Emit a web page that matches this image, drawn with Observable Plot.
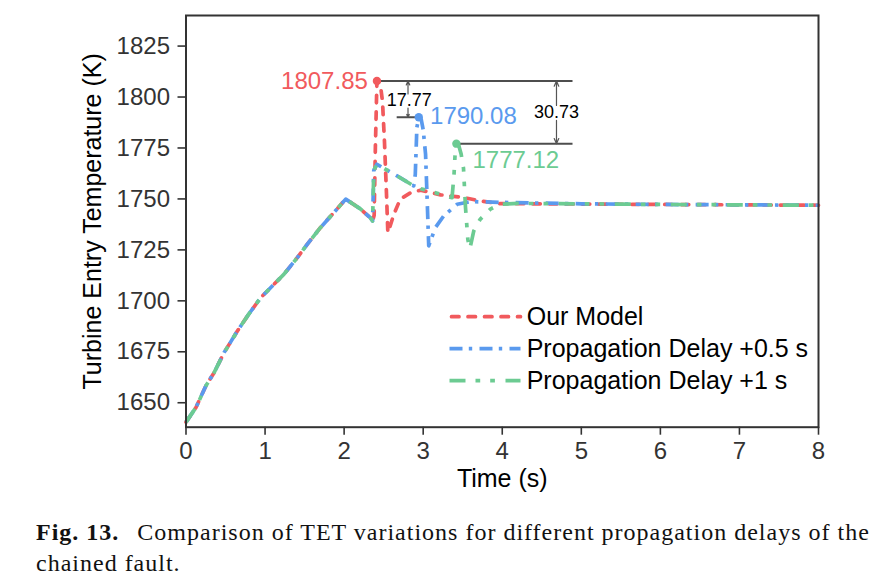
<!DOCTYPE html>
<html><head><meta charset="utf-8">
<script src="https://cdn.jsdelivr.net/npm/d3@7"></script>
<script src="https://cdn.jsdelivr.net/npm/@observablehq/plot@0.6"></script>
<style>
body{margin:0;background:#fff;width:880px;height:580px;overflow:hidden;position:relative;font-family:"Liberation Sans",Arial,sans-serif;}
#chart svg{display:block;}
#caption{position:absolute;left:36px;top:517px;font-family:"Liberation Serif","Times New Roman",serif;font-size:24px;line-height:31px;white-space:nowrap;color:#111;letter-spacing:1px;}
#caption b{margin-right:11px;}
</style></head><body>
<div id="chart"></div>
<div id="caption"><b>Fig. 13.</b> Comparison of TET variations for different propagation delays of the<br>chained fault.</div>
<script>
// ---- data ----
const xTicks = [0, 1, 2, 3, 4, 5, 6, 7, 8];
const yTicks = [1650, 1675, 1700, 1725, 1750, 1775, 1800, 1825];
const seriesNames = ["Our Model", "Propagation Delay +0.5 s", "Propagation Delay +1 s"];

// shared ramp before the fault
const commonT = [0, 0.126, 0.252, 0.357, 0.483, 0.652, 0.778, 0.946, 1.115, 1.24, 1.41, 1.535, 1.70, 1.87, 2.02, 2.21, 2.33, 2.36];
const commonV = [1640.5, 1647.7, 1658.3, 1664.9, 1674.7, 1685.3, 1692.6, 1701.6, 1708.2, 1713.1, 1721.3, 1727.8, 1735.9, 1743.3, 1749.9, 1745, 1740.8, 1739.2];

const redT = [2.38, 2.395, 2.415, 2.44, 2.465, 2.485, 2.51, 2.536, 2.553, 2.58, 2.63, 2.71, 2.84, 2.965, 3.22, 3.51, 3.72, 3.97, 4.5, 5, 6, 7, 8];
const redV = [1742, 1775, 1807.85, 1807.3, 1804, 1798, 1778.4, 1752.3, 1733.5, 1736.5, 1742.5, 1749.9, 1753, 1754.3, 1752, 1750.7, 1749, 1747.7, 1747.6, 1747.5, 1747.3, 1747.1, 1746.9];

const blueT = [2.375, 2.415, 2.67, 2.88, 2.90, 2.92, 2.944, 2.975, 3.0, 3.03, 3.05, 3.07, 3.155, 3.26, 3.43, 3.6, 4.0, 5, 6, 7, 8];
const blueV = [1764, 1767, 1761.3, 1756.4, 1762, 1785, 1790.08, 1789, 1784, 1772, 1750, 1727, 1736, 1741.7, 1747.4, 1748.7, 1748.3, 1747.6, 1747.3, 1747.1, 1746.9];

const greenT = [2.375, 2.415, 2.67, 2.88, 2.97, 3.22, 3.365, 3.39, 3.405, 3.42, 3.45, 3.48, 3.51, 3.535, 3.565, 3.59, 3.64, 3.72, 3.85, 3.97, 4.2, 5, 6, 7, 8];
const greenV = [1764, 1767, 1761.3, 1756.4, 1755, 1752.3, 1750.6, 1762, 1773, 1777.12, 1776.2, 1772, 1765, 1746, 1730, 1725.5, 1734.3, 1740, 1745, 1747.4, 1747.8, 1747.6, 1747.3, 1747.1, 1746.9];

const peakT = [2.415, 2.944, 3.42];
const peakV = [1807.85, 1790.08, 1777.12];
const diffLabels = ["17.77", "30.73"];

// ---- styles / layout ----
const colors = ["#F15A5D", "#5A9AEE", "#6CCB92"];
const dashes = ["7.5,9", "13,6.3,3.4,7.3", "16,10,4.7,10,4.7,10.6"];
const caps = ["round", "butt", "butt"];
const lineW = 3.7;
const annColor = "#4d4d4d";

const rows = (T, V, k) => T.map((t, i) => ({t, v: V[i], k}));
const series = [
  rows([...commonT, ...redT], [...commonV, ...redV], 0),
  rows([...commonT, ...blueT], [...commonV, ...blueV], 1),
  rows([...commonT, ...greenT], [...commonV, ...greenV], 2)
];
const peaks = peakT.map((t, i) => ({t, v: peakV[i], k: i, label: peakV[i].toFixed(2)}));

// annotation geometry (data space)
const xEnd = 4.895;
const hRules = [
  {y: peakV[0], x1: peakT[0], x2: xEnd},
  {y: peakV[2], x1: peakT[2], x2: xEnd},
  {y: peakV[1], x1: 2.671, x2: peakT[1]}
];
const arrows = [
  {x: 2.808, y1: 1801.5, y2: peakV[0]},
  {x: 2.808, y1: 1794.6, y2: peakV[1]},
  {x: 4.686, y1: 1795.9, y2: peakV[0]},
  {x: 4.686, y1: 1788.5, y2: peakV[2]}
];
const diffText = [
  {x: 2.825, y: 1798.4, text: diffLabels[0]},
  {x: 4.686, y: 1792.3, text: diffLabels[1]}
];
const peakLabelPos = [
  {x: 2.30, y: peakV[0]},
  {x: 3.087, y: 1790.3},
  {x: 3.623, y: 1768.9}
];
const fmt = d3.format("d");

const marks = [];
series.forEach((d, k) => {
  marks.push(Plot.line(d, {x: "t", y: "v", stroke: colors[k], strokeWidth: lineW,
    strokeDasharray: dashes[k], strokeLinecap: caps[k], strokeLinejoin: "round"}));
});

const chart = Plot.plot({
  width: 880, height: 500,
  marginLeft: 185.5, marginRight: 62, marginTop: 15, marginBottom: 73.3,
  style: {fontFamily: "'Liberation Sans', Arial, sans-serif", background: "#fff", color: "#333"},
  x: {domain: [0, 8]},
  y: {domain: [1638, 1840]},
  marks: [
    ...marks,
    Plot.ruleY(hRules, {y: "y", x1: "x1", x2: "x2", stroke: annColor, strokeWidth: 2}),
    Plot.arrow(arrows, {x1: "x", x2: "x", y1: "y1", y2: "y2", stroke: "#555", strokeWidth: 1.2, headLength: 7, headAngle: 48}),
    Plot.text(diffText, {x: "x", y: "y", text: "text", fontSize: 18, fill: "#000", lineAnchor: "middle"}),
    Plot.dot(peaks, {x: "t", y: "v", r: 4.2, fill: d => colors[d.k], stroke: "none"}),
    Plot.text(peaks, {x: (d, i) => peakLabelPos[i].x, y: (d, i) => peakLabelPos[i].y, text: "label",
      fill: d => colors[d.k], fontSize: 24, lineAnchor: "middle", textAnchor: "start"}),
    Plot.frame({stroke: "#333", strokeWidth: 2}),
    Plot.axisX({ticks: xTicks, tickSize: 8, tickPadding: 7, fontSize: 24, label: null, tickFormat: fmt, strokeWidth: 1.6, stroke: "#333", fill: "#333"}),
    Plot.axisY({ticks: yTicks, tickSize: 8, tickPadding: 8, fontSize: 24, label: null, tickFormat: fmt, strokeWidth: 1.6, stroke: "#333", fill: "#333"}),
    Plot.text(["Time (s)"], {frameAnchor: "bottom", text: d => d, dy: 51.5, fontSize: 25, fill: "#000", lineAnchor: "middle"}),
    Plot.text(["Turbine Entry Temperature (K)"], {frameAnchor: "left", text: d => d, rotate: -90, dx: -93.5, fontSize: 25, fill: "#000", lineAnchor: "middle", textAnchor: "middle"})
  ]
});
document.getElementById("chart").appendChild(chart);

const svg = d3.select(chart);
// first peak label is right-aligned
svg.selectAll("text").filter(function() { return this.textContent === peaks[0].label; }).attr("text-anchor", "end");

// legend
const lg = svg.append("g").attr("font-family", "'Liberation Sans', Arial, sans-serif").attr("font-size", 25).attr("text-anchor", "start");
seriesNames.forEach((name, i) => {
  const y = 316.7 + 32 * i;
  lg.append("line").attr("x1", caps[i] === "round" ? 451.5 : 449.5).attr("x2", 520.5).attr("y1", y).attr("y2", y)
    .attr("stroke", colors[i]).attr("stroke-width", lineW).attr("stroke-dasharray", dashes[i]).attr("stroke-linecap", caps[i]);
  lg.append("text").attr("x", 526.7).attr("y", y).attr("dy", "0.35em").attr("fill", "#000").attr("text-anchor", "start").text(name);
});
</script>
</body></html>
